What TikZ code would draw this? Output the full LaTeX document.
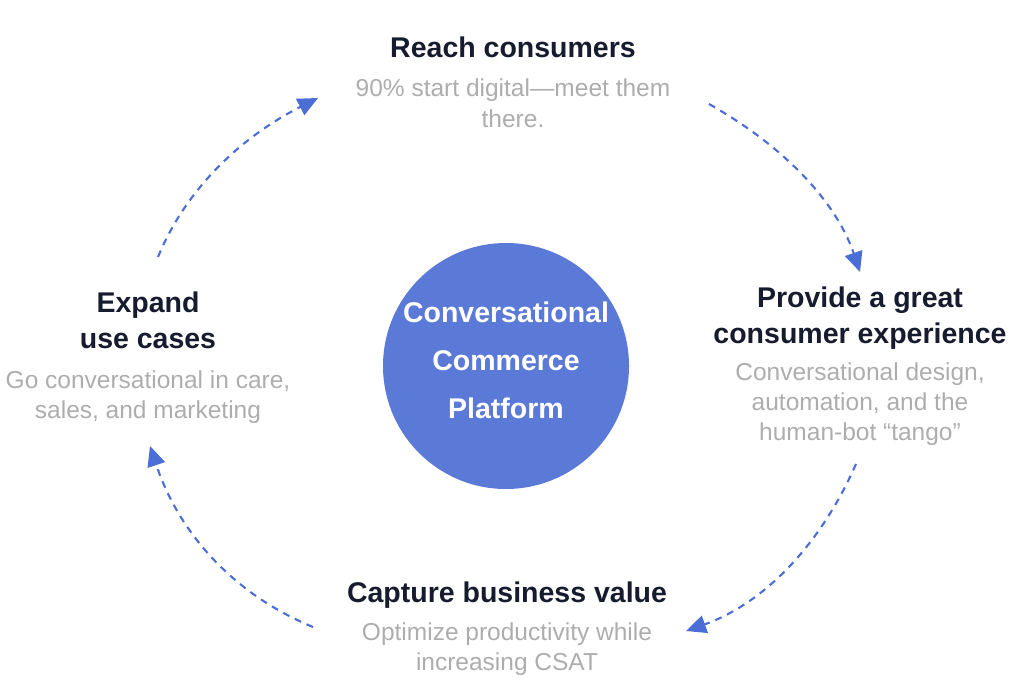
\documentclass[tikz,border=0pt]{standalone}
\usepackage{fontspec}
\setmainfont{Liberation Sans}
\usetikzlibrary{arrows.meta}
\definecolor{hubblue}{HTML}{5B79D6}
\definecolor{loopblue}{HTML}{4A6DD6}
\definecolor{headdark}{HTML}{161B2E}
\definecolor{descgray}{HTML}{ADADAD}
\begin{document}
\begin{tikzpicture}[
    x=1pt, y=-1pt,
    every node/.style={inner sep=0pt, align=center},
    heading/.style={anchor=base, text=headdark,
        font=\fontsize{28.5}{36}\selectfont\bfseries},
    desc/.style={anchor=base, text=descgray,
        font=\fontsize{24.5}{30}\selectfont},
    hub/.style={circle, fill=hubblue, minimum size=246pt},
    loop/.style={loopblue, line width=2.1pt, dash pattern=on 7pt off 6pt,
        -{Triangle[length=20pt,width=18pt]}},
  ]
  \useasboundingbox (0,0) rectangle (1024,690);
  % centre (base = last line)
  \node[hub] (hub) at (506,366) {};
  \node[anchor=base, text=white, font=\fontsize{28.5}{48}\selectfont\bfseries]
    (hubtext) at (506,418) {Conversational\\Commerce\\Platform};
  % the four steps
  \node[heading] (reach) at (513,58) {Reach consumers};
  \node[desc] (reachtxt) at (513,127) {90\% start digital—meet them\\there.};
  \node[heading] (provide) at (860,343) {Provide a great\\consumer experience};
  \node[desc] (providetxt) at (860,440) {Conversational design,\\automation, and the\\human-bot “tango”};
  \node[heading] (capture) at (507,602) {Capture business value};
  \node[desc] (capturetxt) at (507,670) {Optimize productivity while\\increasing CSAT};
  \node[heading] (expand) at (148,348) {Expand\\use cases};
  \node[desc] (expandtxt) at (148,418) {Go conversational in care,\\sales, and marketing};
  % the loop
  \coordinate (r1) at (709,104); \coordinate (r2) at (860,272);
  \coordinate (p1) at (856,464); \coordinate (p2) at (686,631);
  \coordinate (c1) at (313,627); \coordinate (c2) at (150,446);
  \coordinate (e1) at (158,257); \coordinate (e2) at (318,98);
  \draw[loop] (r1) .. controls (787,148) and (837,204) .. (r2);
  \draw[loop] (p1) .. controls (819,548) and (762,604) .. (p2);
  \draw[loop] (c1) .. controls (233,594) and (179,533) .. (c2);
  \draw[loop] (e1) .. controls (185,191) and (239,138) .. (e2);
\end{tikzpicture}
\end{document}
